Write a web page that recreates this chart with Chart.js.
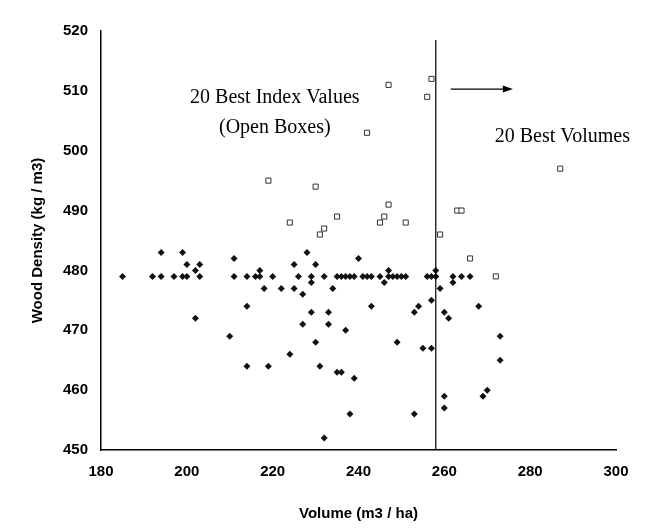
<!DOCTYPE html><html><head><script src="https://cdn.jsdelivr.net/npm/chart.js@4"></script>
<style>body{margin:0;background:#fff}#w{width:653px;height:529px}</style></head><body><div id="w"><canvas id="c"></canvas></div>
<script>
const filledX=[185,192,194,194,197,199,199,200,200,202,202,203,203,210,211,211,214,214,214,216,217,217,218,219,220,222,224,225,225,226,227,227,228,229,229,229,230,230,231,232,232,233,233,234,235,235,236,236,237,237,238,238,239,239,240,241,242,243,243,245,246,247,247,248,249,249,250,251,253,253,254,255,256,257,257,257,258,258,259,260,260,260,261,262,262,264,266,268,269,270,273,273];
const filledY=[479,479,483,479,479,479,483,481,479,472,480,481,479,469,482,479,479,474,464,479,480,479,477,464,479,477,466,481,477,479,471,476,483,478,479,473,481,468,464,479,452,473,471,477,479,463,479,463,479,470,479,456,479,462,482,479,479,479,474,479,478,479,480,479,468,479,479,479,473,456,474,467,479,479,475,467,479,480,477,473,457,459,472,479,478,479,479,474,459,460,469,465];
const openX=[219,224,230,231,232,235,242,245,246,247,247,251,256,257,259,263,264,266,272,287];
const openY=[495,488,494,486,487,489,503,488,489,491,511,488,509,512,486,490,490,482,479,497];
const xTicks=[180,200,220,240,260,280,300];
const yTicks=[450,460,470,480,490,500,510,520];
const zip=(a,b)=>a.map((v,i)=>({x:v,y:b[i]}));
const ann={id:'ann',afterDatasetsDraw(ch){const {ctx,scales:{x,y}}=ch;ctx.save();
ctx.strokeStyle='#000';ctx.lineWidth=1.2;ctx.beginPath();ctx.moveTo(x.getPixelForValue(258),y.getPixelForValue(450));ctx.lineTo(x.getPixelForValue(258),y.getPixelForValue(518.5));ctx.stroke();
const ay=y.getPixelForValue(510.3),ax1=x.getPixelForValue(261.5),ax2=x.getPixelForValue(275.5);
ctx.beginPath();ctx.moveTo(ax1,ay);ctx.lineTo(ax2,ay);ctx.stroke();ctx.beginPath();ctx.moveTo(ax2+2,ay);ctx.lineTo(ax2-8,ay-3.5);ctx.lineTo(ax2-8,ay+3.5);ctx.closePath();ctx.fillStyle='#000';ctx.fill();
ctx.font='20px "Liberation Serif"';ctx.textAlign='center';ctx.textBaseline='middle';
ctx.fillText('20 Best Index Values',x.getPixelForValue(220.5),y.getPixelForValue(508.8));
ctx.fillText('(Open Boxes)',x.getPixelForValue(220.5),y.getPixelForValue(503.8));
ctx.fillText('20 Best Volumes',x.getPixelForValue(287.5),y.getPixelForValue(502.4));
ctx.restore();}};
new Chart(document.getElementById('c'),{type:'scatter',data:{datasets:[
{data:zip(filledX,filledY),pointStyle:'rectRot',radius:3.5,backgroundColor:'#111',borderColor:'#111',borderWidth:0},
{data:zip(openX,openY),pointStyle:'rect',radius:3.6,backgroundColor:'#fff',borderColor:'#333',borderWidth:1}]},
options:{responsive:true,maintainAspectRatio:false,animation:false,layout:{padding:{left:25,right:37,top:31,bottom:2}},
plugins:{legend:{display:false},tooltip:{enabled:false}},
scales:{x:{min:180,max:300,afterBuildTicks:a=>{a.ticks=xTicks.map(v=>({value:v}))},grid:{display:false,drawTicks:true,tickLength:5,color:'#000'},border:{color:'#000',width:1.5},ticks:{color:'#000',font:{size:15,weight:'bold',family:'Liberation Sans'},padding:8},title:{display:true,text:'Volume (m3 / ha)',color:'#000',font:{size:15,weight:'bold',family:'Liberation Sans'},padding:{top:16}}},
y:{min:450,max:520,afterBuildTicks:a=>{a.ticks=yTicks.map(v=>({value:v}))},grid:{display:false,drawTicks:true,tickLength:5,color:'#000'},border:{color:'#000',width:1.5},ticks:{color:'#000',font:{size:15,weight:'bold',family:'Liberation Sans'},padding:8},title:{display:true,text:'Wood Density (kg / m3)',color:'#000',font:{size:15,weight:'bold',family:'Liberation Sans'},padding:{bottom:8}}}}},
plugins:[ann]});
</script></body></html>
